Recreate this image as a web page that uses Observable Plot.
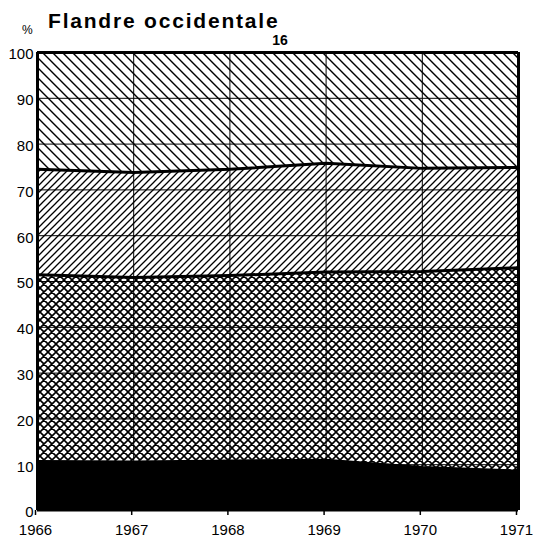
<!DOCTYPE html>
<html><head><meta charset="utf-8">
<script src="https://cdn.jsdelivr.net/npm/d3@7"></script>
<script src="https://cdn.jsdelivr.net/npm/@observablehq/plot@0.6"></script>
<style>
body{margin:0;background:#fff;}
#wrap{position:relative;width:533px;height:541px;font-family:"Liberation Sans",Arial,Helvetica,sans-serif;color:#000;}
.t{position:absolute;white-space:nowrap;line-height:1;}
#chart{position:absolute;left:0;top:0;}
</style></head><body>
<div id="wrap">
<div id="chart"></div>
<div class="t" style="left:48px;top:10px;font-size:21px;font-weight:bold;letter-spacing:1.8px;">Flandre occidentale</div>
<div class="t" style="left:22px;top:24px;font-size:12px;">%</div>
<div class="t" style="left:280px;top:33px;font-size:14px;font-weight:bold;transform:translateX(-50%);">16</div>
</div>
<script>
// Data (cumulative boundaries, %)
const years = [1966, 1967, 1968, 1969, 1970, 1971];
const blackTop = [10.8, 10.7, 10.9, 11.1, 9.5, 8.7];
const crossTop = [51.5, 50.9, 51.3, 52.1, 52.2, 53.0];
const diagTop = [74.5, 73.8, 74.5, 75.8, 74.7, 74.9];
const fullTop = [100, 100, 100, 100, 100, 100];
const yTicks = [0, 10, 20, 30, 40, 50, 60, 70, 80, 90, 100];
const xTicks = years;

const bands = [
  {name: "solid", lo: years.map(() => 0), hi: blackTop, fill: "black"},
  {name: "cross", lo: blackTop, hi: crossTop, fill: "url(#pCross)"},
  {name: "diag", lo: crossTop, hi: diagTop, fill: "url(#pSlash)"},
  {name: "back", lo: diagTop, hi: fullTop, fill: "url(#pBack)"}
];
const bandRows = b => years.map((yr, i) => ({year: yr, y1: b.lo[i], y2: b.hi[i]}));
const lineRows = arr => years.map((yr, i) => ({year: yr, v: arr[i]}));

const chart = Plot.plot({
  width: 533,
  height: 541,
  marginLeft: 37,
  marginRight: 15,
  marginTop: 52,
  marginBottom: 31,
  style: {fontFamily: '"Liberation Sans", Arial, Helvetica, sans-serif', fontSize: "15px", color: "black", background: "white"},
  x: {domain: [1966, 1971], label: null},
  y: {domain: [0, 100], label: null},
  marks: [
    ...bands.map(b => Plot.areaY(bandRows(b), {x: "year", y1: "y1", y2: "y2", fill: b.fill, curve: "linear"})),
    Plot.gridY(yTicks.filter(d => d > 0 && d < 100), {stroke: "black", strokeOpacity: 1, strokeWidth: 1}),
    Plot.gridX(xTicks.filter(d => d > 1966 && d < 1971), {stroke: "black", strokeOpacity: 1, strokeWidth: 1}),
    Plot.lineY(lineRows(blackTop), {x: "year", y: "v", stroke: "black", strokeWidth: 2}),
    Plot.lineY(lineRows(crossTop), {x: "year", y: "v", stroke: "black", strokeWidth: 3}),
    Plot.lineY(lineRows(diagTop), {x: "year", y: "v", stroke: "black", strokeWidth: 3}),
    Plot.ruleY([100], {stroke: "black", strokeWidth: 3}),
    Plot.ruleY([0], {stroke: "black", strokeWidth: 2}),
    Plot.ruleX([1966], {stroke: "black", strokeWidth: 3}),
    Plot.ruleX([1971], {stroke: "black", strokeWidth: 3}),
    Plot.axisY(yTicks, {tickSize: 0, tickPadding: 4, dy: 2, fontSize: 15, label: null}),
    Plot.axisX(xTicks, {tickSize: 5, tickPadding: 9, dx: -2, fontSize: 15, tickFormat: d => String(d), strokeWidth: 1.5, label: null})
  ]
});

const s = 10, m = 7, c = 8;
d3.select(chart).insert("defs", ":first-child").html(`
  <pattern id="pBack" patternUnits="userSpaceOnUse" width="${s}" height="${s}">
    <rect width="${s}" height="${s}" fill="white"/>
    <path d="M-1,${s-1} l2,2 M0,0 l${s},${s} M${s-1},-1 l2,2" stroke="black" stroke-width="1.4"/>
  </pattern>
  <pattern id="pSlash" patternUnits="userSpaceOnUse" width="${m}" height="${m}">
    <rect width="${m}" height="${m}" fill="white"/>
    <path d="M-1,1 l2,-2 M0,${m} l${m},-${m} M${m-1},${m+1} l2,-2" stroke="black" stroke-width="1.3"/>
  </pattern>
  <pattern id="pCross" patternUnits="userSpaceOnUse" width="${c}" height="${c}">
    <rect width="${c}" height="${c}" fill="white"/>
    <path d="M-1,1 l2,-2 M0,${c} l${c},-${c} M${c-1},${c+1} l2,-2 M-1,${c-1} l2,2 M0,0 l${c},${c} M${c-1},-1 l2,2" stroke="black" stroke-width="1.6"/>
  </pattern>
`);
document.getElementById("chart").appendChild(chart);
</script>
</body></html>
